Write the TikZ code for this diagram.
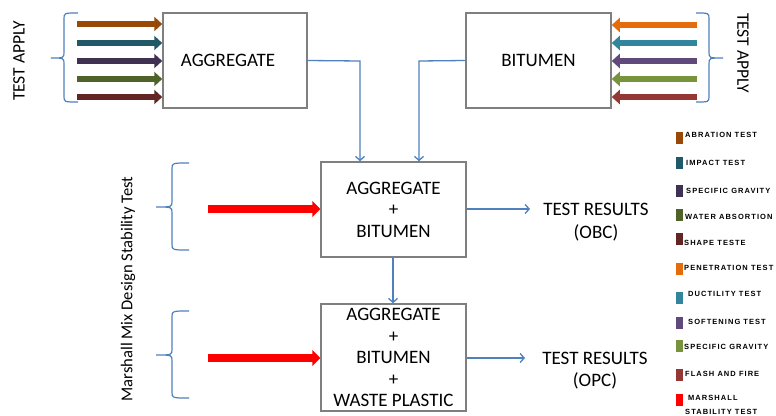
\documentclass[tikz,border=0pt]{standalone}
\usepackage{fontspec}
\setmainfont{Carlito}
\newfontfamily\legfont[LetterSpace=14]{Liberation Sans}
\usetikzlibrary{arrows.meta}
\definecolor{boxgray}{HTML}{7F7F7F}
\definecolor{linkblue}{HTML}{4F81BD}
\definecolor{cA}{HTML}{984807}
\definecolor{cB}{HTML}{215968}
\definecolor{cC}{HTML}{3F3151}
\definecolor{cD}{HTML}{4F6228}
\definecolor{cE}{HTML}{632523}
\definecolor{cF}{HTML}{E46C0A}
\definecolor{cG}{HTML}{31859C}
\definecolor{cH}{HTML}{604A7B}
\definecolor{cI}{HTML}{77933C}
\definecolor{cJ}{HTML}{953735}
\definecolor{cK}{HTML}{FF0000}
\newcommand{\bracepth}[6]{%
  \draw[bracestyle] (#1,#4) .. controls (#2,#4) .. (#2,#4+6) -- (#2,#5-6)
    .. controls (#2,#5) .. (#3,#5) .. controls (#2,#5) .. (#2,#5+6)
    -- (#2,#6-6) .. controls (#2,#6) .. (#1,#6);}
\tikzset{
  mainbox/.style={draw=boxgray, line width=1.5pt, inner sep=0pt, align=center,
    font=\fontsize{19}{21.5}\selectfont},
  plaintext/.style={inner sep=0pt, align=center, font=\fontsize{19}{22.5}\selectfont},
  sidetext/.style={inner sep=0pt, font=\fontsize{17.5}{20}\selectfont},
  fatarrow/.style={line width=6.5pt, -{Triangle[length=8pt,width=14pt]}},
  redarrow/.style={line width=8pt, draw=cK, -{Triangle[length=8pt,width=16pt]}},
  link/.style={draw=linkblue, line width=1.3pt, -{Straight Barb[length=4pt,width=9pt]}},
  bracestyle/.style={draw=linkblue, line width=1.2pt},
  legsq/.style={minimum width=7pt, minimum height=12pt, inner sep=0pt, draw=none},
  legtxt/.style={inner sep=0pt, anchor=west, font=\legfont\bfseries\fontsize{7.5}{9}\selectfont}
}
\begin{document}
\begin{tikzpicture}[x=1pt,y=-1pt]
\useasboundingbox (0,0) rectangle (776,415);
\fill[white] (0,0) rectangle (776,415);

% main boxes
\node[mainbox, minimum width=144pt, minimum height=95pt] (agg) at (235,60.5) {\hspace*{-14pt}AGGREGATE};
\node[mainbox, minimum width=145pt, minimum height=95pt] (bit) at (538.5,60.5) {BITUMEN};
\node[mainbox, minimum width=145pt, minimum height=95pt] (mid) at (393.5,209.5) {AGGREGATE\\+\\BITUMEN};
\node[mainbox, minimum width=145pt, minimum height=107pt] (bot) at (393.5,357.5) {AGGREGATE\\+\\BITUMEN\\+\\WASTE PLASTIC};

% results
\node[plaintext] (res1) at (596,222) {TEST RESULTS\\(OBC)};
\node[plaintext] (res2) at (595,370.5) {TEST RESULTS\\(OPC)};

% side labels
\node[sidetext, rotate=90] (ta1) at (19,61) {TEST APPLY};
\node[sidetext, rotate=-90] (ta2) at (743,53) {TEST APPLY};
\node[sidetext, rotate=90, font=\fontsize{16.6}{20}\selectfont] (mm) at (128,289) {Marshall Mix Design Stability Test};

% braces
\bracepth{78}{64}{51}{13}{58}{102}
\bracepth{696}{709}{723}{13}{58}{102}
\bracepth{189}{172}{156}{163}{207}{250}
\bracepth{189}{172}{156}{311}{355}{398}

% left coloured arrows
\foreach \yy/\cc [count=\i] in {24/cA,43/cB,61/cC,79/cD,97/cE}{
  \coordinate (la\i) at (77,\yy);
  \draw[fatarrow, draw=\cc] (la\i) -- (la\i -| agg.west);
}
% right coloured arrows
\foreach \yy/\cc [count=\i] in {25/cF,43/cG,61/cH,79/cI,97/cJ}{
  \coordinate (ra\i) at (697,\yy);
  \draw[fatarrow, draw=\cc] (ra\i) -- (ra\i -| bit.east);
}

% red arrows
\coordinate (rd1) at (208,209);
\coordinate (rd2) at (208,358);
\draw[redarrow] (rd1) -- (rd1 -| mid.west);
\draw[redarrow] (rd2) -- (rd2 -| bot.west);

% blue links
\coordinate (k1) at (360,61);
\coordinate (k2) at (419,61);
\draw[link] (agg.east) -- (k1) -- (k1 |- mid.north);
\draw[link] (bit.west) -- (k2) -- (k2 |- mid.north);
\coordinate (k3) at (393,0);
\draw[link] (k3 |- mid.south) -- (k3 |- bot.north);
\coordinate (e1) at (530,209);
\coordinate (e2) at (525,358);
\draw[link] (e1 -| mid.east) -- (e1);
\draw[link] (e2 -| bot.east) -- (e2);

% legend
\foreach \yy/\cc/\ty/\tx/\tt [count=\i] in {
  138/cA/135/685/ABRATION TEST,
  162.5/cB/163/686/IMPACT TEST,
  191/cC/191/686/SPECIFIC GRAVITY,
  214.5/cD/217/685/WATER ABSORTION,
  239/cE/243/684/SHAPE TESTE,
  269/cF/268/684/PENETRATION TEST,
  298/cG/294/688/DUCTILITY TEST,
  323/cH/322/688/SOFTENING TEST,
  345.5/cI/347/684/SPECIFIC GRAVITY,
  375/cJ/374/685/FLASH AND FIRE,
  399.5/cK/398/688/MARSHALL}{
  \node[legsq, fill=\cc] (sq\i) at (679.5,\yy) {};
  \node[legtxt] (lt\i) at (\tx,\ty) {\tt};
}
\node[legtxt] (lt12) at (685,412) {STABILITY TEST};
\end{tikzpicture}
\end{document}
